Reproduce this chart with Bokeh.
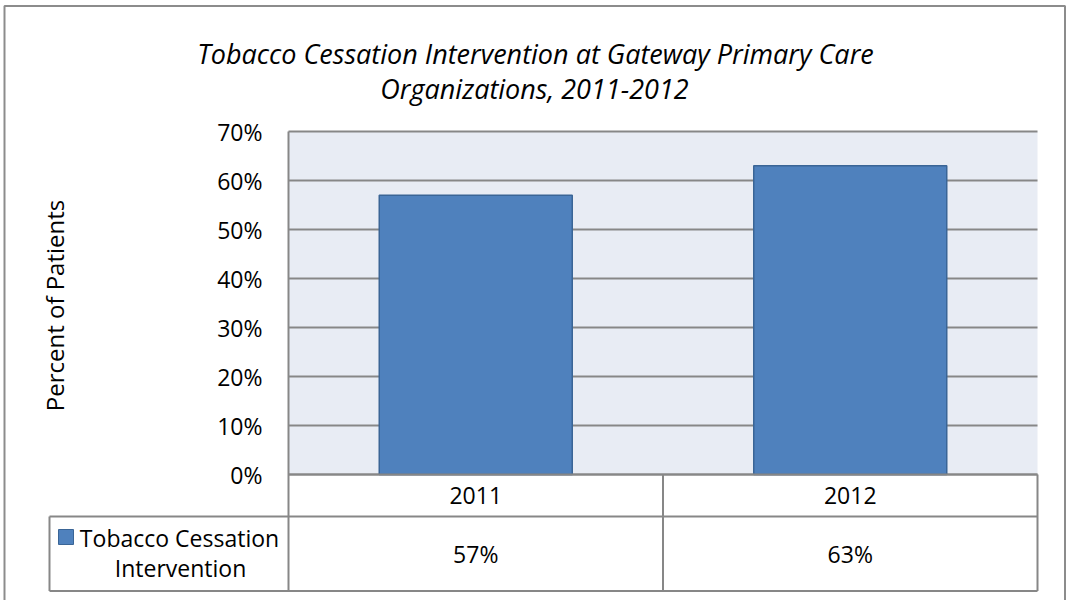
import math
from bokeh.plotting import figure
from bokeh.models import Range1d, ColumnDataSource
from bokeh.embed import file_html
from bokeh.resources import INLINE
from bokeh.core.properties import value

# ---------------- data ----------------
years = ["2011", "2012"]
rates = [57, 63]
series_name = ["Tobacco Cessation", "Intervention"]
y_ticks = [0, 10, 20, 30, 40, 50, 60, 70]
tick_labels = ["0%", "10%", "20%", "30%", "40%", "50%", "60%", "70%"]
value_labels = ["57%", "63%"]
title_lines = ["Tobacco Cessation Intervention at Gateway Primary Care",
               "Organizations, 2011-2012"]
y_label = "Percent of Patients"

# ---------------- layout (pixels) ----------------
W, H = 1066, 600
PX_L, PX_R = 288, 1037
PX_T, PX_B = 131, 474
YMAX = 70
sx = (PX_R - PX_L) / len(years)
sy = (PX_B - PX_T) / YMAX


def X(px):
    return (px - PX_L) / sx


def Y(py):
    return (PX_B - py) / sy


FONT = value("Open Sans")
GRID = "#878787"
BAR = "#4F81BD"
BAR_LINE = "#3A6596"

p = figure(width=W, height=H, x_range=Range1d(X(0), X(W)), y_range=Range1d(Y(H), Y(0)),
           output_backend="svg", toolbar_location=None, min_border=0,
           x_axis_location=None, y_axis_location=None,
           background_fill_color="white", border_fill_color="white",
           outline_line_color=None)
p.xgrid.visible = False
p.ygrid.visible = False

# outer chart border
p.quad(left=[X(4)], right=[X(1064.5)], top=[Y(5.5)], bottom=[Y(602)],
       fill_color=None, line_color="#8C8C8C", line_width=2)

# plot area background
n = len(years)
p.quad(left=[0], right=[n], bottom=[0], top=[YMAX], fill_color="#E8ECF4", line_color=None)

# gridlines
p.segment(x0=[0] * len(y_ticks), x1=[n] * len(y_ticks), y0=y_ticks, y1=y_ticks,
          line_color=GRID, line_width=2)

# bars
xs = [i + 0.5 for i in range(n)]
src = ColumnDataSource(dict(x=xs, top=rates, year=years, lab=value_labels))
p.vbar(x="x", top="top", bottom=0, width=193 / sx, source=src,
       fill_color=BAR, line_color=BAR_LINE, line_width=1.5)

# data table lines
row1_b = Y(516)
row2_b = Y(590.5)
cell_l = X(49)
# vertical lines
p.segment(x0=[0, 1, n, cell_l], x1=[0, 1, n, cell_l],
          y0=[YMAX, 0, 0, row1_b], y1=[row2_b, row2_b, row2_b, row2_b],
          line_color=GRID, line_width=2)
# horizontal lines
p.segment(x0=[0, cell_l, cell_l], x1=[n, n, n], y0=[0, row1_b, row2_b], y1=[0, row1_b, row2_b],
          line_color=GRID, line_width=2)

# category labels (row 1)
p.text(x="x", y=Y(495), text="year", source=src, text_font=FONT, text_font_size="23px",
       text_align="center", text_baseline="middle", text_color="black")
# value labels (row 2)
p.text(x="x", y=Y(553), text="lab", source=src, text_font=FONT, text_font_size="23px",
       text_align="center", text_baseline="middle", text_color="black")

# legend key in table
p.scatter(x=[X(65.5)], y=[Y(536.5)], marker="square", size=15, fill_color=BAR,
          line_color=BAR_LINE, line_width=1)
p.text(x=[X(179), X(180)], y=[Y(537), Y(567)], text=series_name, text_font=FONT,
       text_font_size="23px", text_align="center", text_baseline="middle", text_color="black")

# y tick labels
p.text(x=[X(262)] * len(y_ticks), y=y_ticks, text=tick_labels, text_font=FONT,
       text_font_size="23px", text_align="right", text_baseline="middle", text_color="black")

# y axis label
p.text(x=[X(54)], y=[Y(305)], text=[y_label], angle=math.pi / 2, text_font=FONT,
       text_font_size="24px", text_align="center", text_baseline="middle", text_color="black")

# title
p.text(x=[X(535), X(534)], y=[Y(53), Y(88)], text=title_lines, text_font=FONT,
       text_font_style="italic", text_font_size="27px", text_align="center",
       text_baseline="alphabetic", text_color="black")

open("out.html", "w").write(file_html(p, INLINE))
